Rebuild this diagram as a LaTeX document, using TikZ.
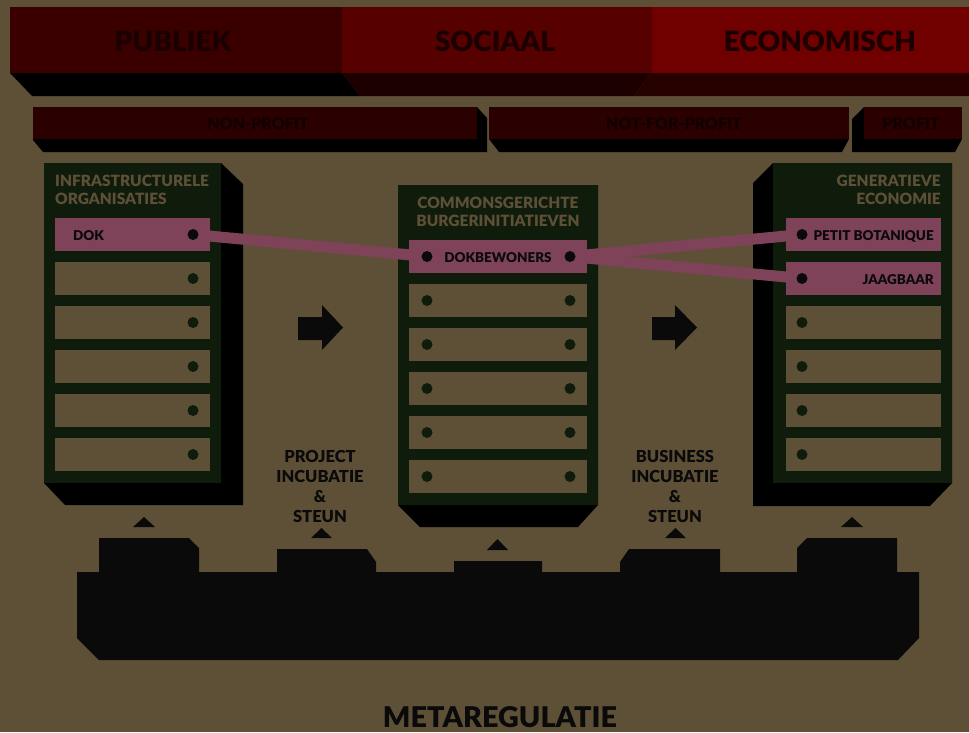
\documentclass[tikz,border=0pt]{standalone}
\usepackage{fontspec}
\setmainfont{Lato}[BoldFont={Lato Black}]
\definecolor{bg}{HTML}{5E5036}
\definecolor{redA}{HTML}{3A0000}
\definecolor{redB}{HTML}{570000}
\definecolor{redC}{HTML}{700000}
\definecolor{shB}{HTML}{1C0000}
\definecolor{shC}{HTML}{270000}
\definecolor{rowbox}{HTML}{2A0000}
\definecolor{rowtext}{HTML}{120000}
\definecolor{toptext}{HTML}{1A0000}
\definecolor{grn}{HTML}{0F1C0C}
\definecolor{pinkc}{HTML}{7E4359}
\definecolor{ink}{HTML}{0A0A0A}
\tikzset{
  bartop/.style={anchor=base, inner sep=0, text=toptext, font=\bfseries\fontsize{28}{32}\selectfont},
  subtext/.style={anchor=base, inner sep=0, text=rowtext, font=\bfseries\fontsize{16}{19}\selectfont},
  coltitle/.style={inner sep=0, text=bg, font=\bfseries\fontsize{15.5}{18}\selectfont},
  rowbar/.style={fill=bg, minimum height=33pt, inner sep=0, anchor=north west},
  pinkbar/.style={rowbar, fill=pinkc},
  rowdot/.style={circle, fill=#1, minimum size=11pt, inner sep=0},
  bartext/.style={inner sep=0, text=ink, font=\bfseries\fontsize{13.5}{16}\selectfont},
  conn/.style={draw=pinkc, line width=11pt},
  lbl/.style={anchor=base, inner sep=0, text=ink, font=\bfseries\fontsize{16.5}{20}\selectfont},
  tri/.style={fill=ink},
}
\begin{document}
\begin{tikzpicture}[x=1pt,y=-1pt]
\fill[bg] (0,0) rectangle (969,732);
\useasboundingbox (0,0) rectangle (969,732);

% top band
\fill[black] (10,73) -- (32,96) -- (360,96) -- (342,73) -- cycle;
\fill[shB] (342,73) -- (360,96) -- (634,96) -- (651,73) -- cycle;
\fill[shC] (651,73) -- (634,96) -- (969,96) -- (969,73) -- cycle;
\fill[redA] (10,7) rectangle (342,73);
\fill[redB] (342,7) rectangle (652,73);
\fill[redC] (652,7) rectangle (969,73);
\node[bartop] (publiek) at (173,51) {PUBLIEK};
\node[bartop] (sociaal) at (495,51) {SOCIAAL};
\node[bartop] (econ) at (820,51) {ECONOMISCH};

% second row
\fill[black] (33,107) -- (477,107) -- (487,118) -- (487,152) -- (43,152) -- (33,140) -- cycle;
\fill[rowbox] (33,107) rectangle (477,139);
\fill[black] (489,139) -- (499,152) -- (842,152) -- (849,139) -- cycle;
\fill[rowbox] (489,107) rectangle (849,139);
\fill[black] (864,107) -- (852,119) -- (852,152) -- (955,152) -- (962,139) -- (864,139) -- cycle;
\fill[rowbox] (864,107) rectangle (962,139);
\node[subtext] (np) at (258,129) {NON-PROFIT};
\node[subtext] (nfp) at (674,129) {NOT-FOR-PROFIT};
\node[subtext] (pr) at (911,129) {PROFIT};

% columns
\fill[black] (44,163) -- (221,163) -- (243,184) -- (243,505) -- (65,505) -- (44,483) -- cycle;
\fill[grn] (44,163) rectangle (221,483);
\fill[black] (398,185) -- (598,185) -- (598,505) -- (578,527) -- (420,527) -- (398,505) -- cycle;
\fill[grn] (398,185) rectangle (598,505);
\fill[black] (773,163) -- (753,183) -- (753,506) -- (930,506) -- (952,483) -- (952,163) -- cycle;
\fill[grn] (773,163) rectangle (952,483);

\node[coltitle, anchor=base west] (ct1a) at (55,186) {INFRASTRUCTURELE};
\node[coltitle, anchor=base west] (ct1b) at (55,204) {ORGANISATIES};
\node[coltitle, anchor=base] (ct2a) at (498,208) {COMMONSGERICHTE};
\node[coltitle, anchor=base] (ct2b) at (498,226) {BURGERINITIATIEVEN};
\node[coltitle, anchor=base east] (ct3a) at (941,186) {GENERATIEVE};
\node[coltitle, anchor=base east] (ct3b) at (941,204) {ECONOMIE};

% connector end points
\coordinate (dL) at (193,234.5);
\coordinate (dMl) at (427,256.5);
\coordinate (dMr) at (570,256.5);
\coordinate (dR1) at (802,234.5);
\coordinate (dR2) at (802,278.5);
\draw[conn] (dL) -- (dMl);
\draw[conn] (dMr) -- (dR1);
\draw[conn] (dMr) -- (dR2);

% left rows
\node[pinkbar, minimum width=155pt] (dok) at (55,218) {};
\node[bartext, anchor=base west] (doktxt) at (73,240) {DOK};
\node[rowdot=ink] (dokdot) at (dL) {};
\foreach \i in {1,...,5}{
  \node[rowbar, minimum width=155pt] (l\i) at (55,218+44*\i) {};
  \node[rowdot=grn] (ld\i) at (193,234.5+44*\i) {};
}

% middle rows
\node[pinkbar, minimum width=178pt] (dokb) at (409,240) {};
\node[bartext, anchor=base] (dokbtxt) at (498,262) {DOKBEWONERS};
\node[rowdot=ink] (dokbl) at (dMl) {};
\node[rowdot=ink] (dokbr) at (dMr) {};
\foreach \i in {1,...,5}{
  \node[rowbar, minimum width=178pt] (m\i) at (409,240+44*\i) {};
  \node[rowdot=grn] (mdl\i) at (427,256.5+44*\i) {};
  \node[rowdot=grn] (mdr\i) at (570,256.5+44*\i) {};
}

% right rows
\node[pinkbar, minimum width=155pt] (petit) at (786,218) {};
\node[bartext, anchor=base east] (petittxt) at (934,240) {PETIT BOTANIQUE};
\node[rowdot=ink] (petitdot) at (dR1) {};
\node[pinkbar, minimum width=155pt] (jaag) at (786,262) {};
\node[bartext, anchor=base east] (jaagtxt) at (934,284) {JAAGBAAR};
\node[rowdot=ink] (jaagdot) at (dR2) {};
\foreach \i in {2,...,5}{
  \node[rowbar, minimum width=155pt] (r\i) at (786,218+44*\i) {};
  \node[rowdot=grn] (rd\i) at (802,234.5+44*\i) {};
}

% arrows
\fill[ink] (298,317) -- (322,317) -- (322,305) -- (343,327.5) -- (322,350) -- (322,340) -- (298,340) -- cycle;
\fill[ink] (652,317) -- (675,317) -- (675,305) -- (697,327.5) -- (675,350) -- (675,340) -- (652,340) -- cycle;

% labels
\node[lbl] (p1) at (320,462) {PROJECT};
\node[lbl] (p2) at (320,482) {INCUBATIE};
\node[lbl] (p3) at (320,502) {\&};
\node[lbl] (p4) at (320,522) {STEUN};
\node[lbl] (b1) at (675,462) {BUSINESS};
\node[lbl] (b2) at (675,482) {INCUBATIE};
\node[lbl] (b3) at (675,502) {\&};
\node[lbl] (b4) at (675,522) {STEUN};

% triangles
\fill[tri] (133,527) -- (155,527) -- (144,517) -- cycle;
\fill[tri] (311,538) -- (332,538) -- (321.5,528) -- cycle;
\fill[tri] (487,550) -- (508,550) -- (497.5,539) -- cycle;
\fill[tri] (665,538) -- (686,538) -- (675.5,528) -- cycle;
\fill[tri] (841,527) -- (863,527) -- (852,517) -- cycle;

% bottom shape
\fill[ink] (77,572) -- (99,572) -- (99,538) -- (189,538) -- (199,548) -- (199,572)
  -- (277,572) -- (277,549) -- (367,549) -- (376,562) -- (376,572)
  -- (454,572) -- (454,561) -- (542,561) -- (542,572)
  -- (620,572) -- (620,562) -- (629,549) -- (720,549) -- (720,572)
  -- (797,572) -- (797,548) -- (807,538) -- (897,538) -- (897,572)
  -- (919,572) -- (919,638) -- (898,660) -- (99,660) -- (77,638) -- cycle;

\node[inner sep=0, anchor=base, text=ink] (meta) at (500,727) {\resizebox{234pt}{21pt}{\bfseries METAREGULATIE}};
\end{tikzpicture}
\end{document}
